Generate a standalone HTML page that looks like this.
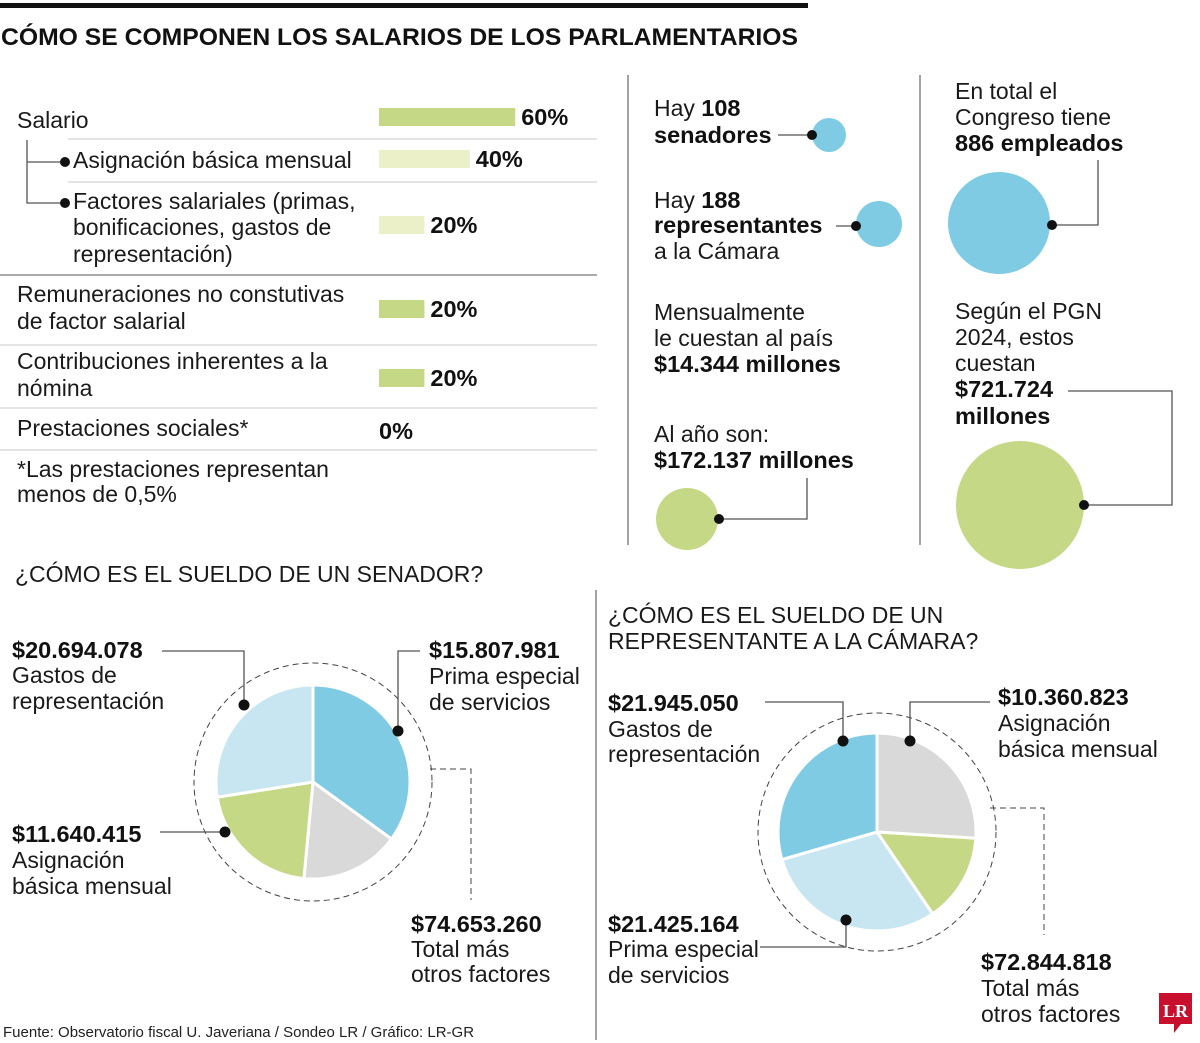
<!DOCTYPE html>
<html><head><meta charset="utf-8"><style>
html,body{margin:0;padding:0;background:#fff;}
svg{display:block;font-family:"Liberation Sans",sans-serif;}
.t{font-size:23px;fill:#1a1a1a;}
.b{font-size:23.5px;font-weight:bold;fill:#111;}
.sep{stroke:#c8c8c8;stroke-width:1;}
.ln{stroke:#555;stroke-width:1.3;fill:none;}
.dl{stroke:#444;stroke-width:1;fill:none;stroke-dasharray:6 4;}
</style></head><body>
<svg id="chart" width="1200" height="1043" viewBox="0 0 1200 1043">
<rect x="0" y="3" width="808" height="5" fill="#111"/>
<text x="1" y="45" font-size="24" font-weight="bold" fill="#111" textLength="797" lengthAdjust="spacingAndGlyphs">CÓMO SE COMPONEN LOS SALARIOS DE LOS PARLAMENTARIOS</text>

<g id="bars">
<line class="sep" x1="68" y1="139" x2="597" y2="139"/>
<line class="sep" x1="68" y1="182" x2="597" y2="182"/>
<line x1="0" y1="275" x2="597" y2="275" stroke="#777" stroke-width="1.3"/>
<line class="sep" x1="0" y1="345" x2="597" y2="345"/>
<line class="sep" x1="0" y1="408" x2="597" y2="408"/>
<line class="sep" x1="0" y1="450" x2="597" y2="450"/>
<path class="ln" d="M27 140 V203 H63 M27 162 H63"/>
<circle cx="65" cy="162" r="5" fill="#111"/><circle cx="65" cy="203" r="5" fill="#111"/>
<text class="t" x="17" y="128">Salario</text>
<text class="t" x="73" y="168">Asignación básica mensual</text>
<text class="t" x="73" y="209">Factores salariales (primas,</text>
<text class="t" x="73" y="235">bonificaciones, gastos de</text>
<text class="t" x="73" y="262">representación)</text>
<text class="t" x="17" y="302">Remuneraciones no constutivas</text>
<text class="t" x="17" y="329">de factor salarial</text>
<text class="t" x="17" y="369">Contribuciones inherentes a la</text>
<text class="t" x="17" y="396">nómina</text>
<text class="t" x="17" y="436">Prestaciones sociales*</text>
<text class="t" x="17" y="477">*Las prestaciones representan</text>
<text class="t" x="17" y="502">menos de 0,5%</text>
</g>

<g>
<line x1="628" y1="75" x2="628" y2="545" stroke="#666" stroke-width="1.2"/>
<line x1="920" y1="75" x2="920" y2="545" stroke="#666" stroke-width="1.2"/>
<text class="t" x="654" y="116">Hay <tspan class="b">108</tspan></text>
<text class="b" x="654" y="143">senadores</text>
<circle cx="829" cy="135" r="17" fill="#7ecbe3"/>
<line class="ln" x1="778" y1="135" x2="812" y2="135"/><circle cx="812" cy="135" r="5" fill="#111"/>
<text class="t" x="654" y="208">Hay <tspan class="b">188</tspan></text>
<text class="b" x="654" y="233">representantes</text>
<text class="t" x="654" y="259">a la Cámara</text>
<circle cx="879" cy="224" r="23" fill="#7ecbe3"/>
<line class="ln" x1="836" y1="226" x2="856" y2="226"/><circle cx="856" cy="226" r="5" fill="#111"/>
<text class="t" x="654" y="320">Mensualmente</text>
<text class="t" x="654" y="346">le cuestan al país</text>
<text class="b" x="654" y="372">$14.344 millones</text>
<text class="t" x="654" y="442">Al año son:</text>
<text class="b" x="654" y="468">$172.137 millones</text>
<circle cx="687" cy="519" r="31" fill="#c5d886"/>
<path class="ln" d="M719 519 H807 V478"/><circle cx="719" cy="519" r="5" fill="#111"/>
<text class="t" x="955" y="99">En total el</text>
<text class="t" x="955" y="125">Congreso tiene</text>
<text class="b" x="955" y="151">886 empleados</text>
<circle cx="999" cy="223" r="51" fill="#7ecbe3"/>
<path class="ln" d="M1052 225 H1098 V160"/><circle cx="1052" cy="225" r="5" fill="#111"/>
<text class="t" x="955" y="319">Según el PGN</text>
<text class="t" x="955" y="345">2024, estos</text>
<text class="t" x="955" y="371">cuestan</text>
<text class="b" x="955" y="397">$721.724</text>
<text class="b" x="955" y="424">millones</text>
<circle cx="1020" cy="505" r="64" fill="#c5d886"/>
<path class="ln" d="M1084 505 H1172 V391 H1068"/><circle cx="1084" cy="505" r="5" fill="#111"/>
</g>

<g>
<text class="t" x="15" y="582">¿CÓMO ES EL SUELDO DE UN SENADOR?</text>
<circle cx="313" cy="782" r="119" fill="none" class="dl"/>
<g id="pieSen"></g>
<path class="ln" d="M162 651 H244 V705"/><circle cx="244" cy="705" r="5.5" fill="#111"/>
<path class="ln" d="M420 651 H398 V731"/><circle cx="398" cy="731" r="5.5" fill="#111"/>
<path class="ln" d="M160 832 H225"/><circle cx="225" cy="832" r="5.5" fill="#111"/>
<path class="dl" d="M430 769 H471 V900"/>
<text class="b" x="12" y="658">$20.694.078</text><text class="t" x="12" y="683">Gastos de</text><text class="t" x="12" y="709">representación</text>
<text class="b" x="429" y="658">$15.807.981</text><text class="t" x="429" y="684">Prima especial</text><text class="t" x="429" y="710">de servicios</text>
<text class="b" x="12" y="842">$11.640.415</text><text class="t" x="12" y="868">Asignación</text><text class="t" x="12" y="894">básica mensual</text>
<text class="b" x="411" y="932">$74.653.260</text><text class="t" x="411" y="957">Total más</text><text class="t" x="411" y="982">otros factores</text>
</g>

<g>
<line x1="596" y1="590" x2="596" y2="1040" stroke="#666" stroke-width="1.2"/>
<text class="t" x="608" y="623">¿CÓMO ES EL SUELDO DE UN</text>
<text class="t" x="608" y="649">REPRESENTANTE A LA CÁMARA?</text>
<circle cx="877" cy="832" r="119" class="dl"/>
<g id="pieRep"></g>
<path class="ln" d="M765 702 H843 V741"/><circle cx="843" cy="741" r="5.5" fill="#111"/>
<path class="ln" d="M990 702 H910 V741"/><circle cx="910" cy="741" r="5.5" fill="#111"/>
<path class="ln" d="M760 947 H846 V920"/><circle cx="846" cy="920" r="5.5" fill="#111"/>
<path class="dl" d="M990 808 H1044 V935"/>
<text class="b" x="608" y="711">$21.945.050</text><text class="t" x="608" y="737">Gastos de</text><text class="t" x="608" y="762">representación</text>
<text class="b" x="998" y="705">$10.360.823</text><text class="t" x="998" y="731">Asignación</text><text class="t" x="998" y="757">básica mensual</text>
<text class="b" x="608" y="932">$21.425.164</text><text class="t" x="608" y="957">Prima especial</text><text class="t" x="608" y="983">de servicios</text>
<text class="b" x="981" y="970">$72.844.818</text><text class="t" x="981" y="996">Total más</text><text class="t" x="981" y="1022">otros factores</text>
</g>

<text x="3" y="1037" font-size="15" fill="#222">Fuente: Observatorio fiscal U. Javeriana / Sondeo LR / Gráfico: LR-GR</text>
<g>
<path d="M1159 993 H1192 V1024 H1181 L1174 1033 V1024 H1159 Z" fill="#c8102e"/>
<text x="1175.5" y="1017" font-family="Liberation Serif,serif" font-weight="bold" font-size="18" fill="#fff" text-anchor="middle">LR</text>
</g>
</svg>
<script>
// Bar data
const barLabels = ["Salario","Asignación básica mensual","Factores salariales","Remuneraciones no constitutivas","Contribuciones inherentes","Prestaciones sociales"];
const barValues = [60, 40, 20, 20, 20, 0];
const barTypes = ["main","sub","sub","main","main","main"];
// Senator pie (shares, clockwise from top)
const senCategories = ["Prima especial de servicios","Otros","Asignación básica mensual","Gastos de representación"];
const senValues = [35, 16.5, 21, 27.5];
// Representative pie
const repCategories = ["Asignación básica mensual","Otros","Prima especial de servicios","Gastos de representación"];
const repValues = [26, 14.5, 30, 29.5];

const NS = "http://www.w3.org/2000/svg";
const barRowY = [108, 150, 216, 300, 369, 420];
const barX0 = 379, pxPerPct = 2.27;
const xScale = v => barX0 + v * pxPerPct;
const barsG = document.getElementById('bars');
barValues.forEach((v, i) => {
  const y = barRowY[i];
  if (v > 0) {
    const r = document.createElementNS(NS, 'rect');
    r.setAttribute('x', barX0); r.setAttribute('y', y);
    r.setAttribute('width', xScale(v) - barX0); r.setAttribute('height', 18);
    r.setAttribute('fill', barTypes[i] === 'main' ? '#c5d886' : '#ebf0c8');
    
    
    barsG.appendChild(r);
  }
  const t = document.createElementNS(NS, 'text');
  t.setAttribute('x', v > 0 ? xScale(v) + 6 : barX0);
  t.setAttribute('y', y + 17 + (v > 0 ? 0 : 2));
  t.setAttribute('class', 'b');
  t.textContent = v + '%';
  
  
  barsG.appendChild(t);
});

const pieColorsSen = ["#7ecbe3","#d9d9d9","#c5d886","#c8e6f2"];
const pieColorsRep = ["#d9d9d9","#c5d886","#c8e6f2","#7ecbe3"];
function drawPie(gid, cx, cy, r, vals, colors) {
  const g = document.getElementById(gid);
  const total = vals.reduce((a, b) => a + b, 0);
  let a0 = 0;
  vals.forEach((v, i) => {
    const a1 = a0 + v / total * 2 * Math.PI;
    const p = (a) => [cx + r * Math.sin(a), cy - r * Math.cos(a)];
    const [x0, y0] = p(a0), [x1, y1] = p(a1);
    const path = document.createElementNS(NS, 'path');
    path.setAttribute('d', `M${cx} ${cy} L${x0} ${y0} A${r} ${r} 0 ${a1 - a0 > Math.PI ? 1 : 0} 1 ${x1} ${y1} Z`);
    path.setAttribute('fill', colors[i]);
    path.setAttribute('stroke', '#fff');
    path.setAttribute('stroke-width', '3');
    
    
    g.appendChild(path);
    a0 = a1;
  });
}
drawPie('pieSen', 313, 782, 97, senValues, pieColorsSen);
drawPie('pieRep', 877, 832, 99, repValues, pieColorsRep);
</script>
</body></html>
